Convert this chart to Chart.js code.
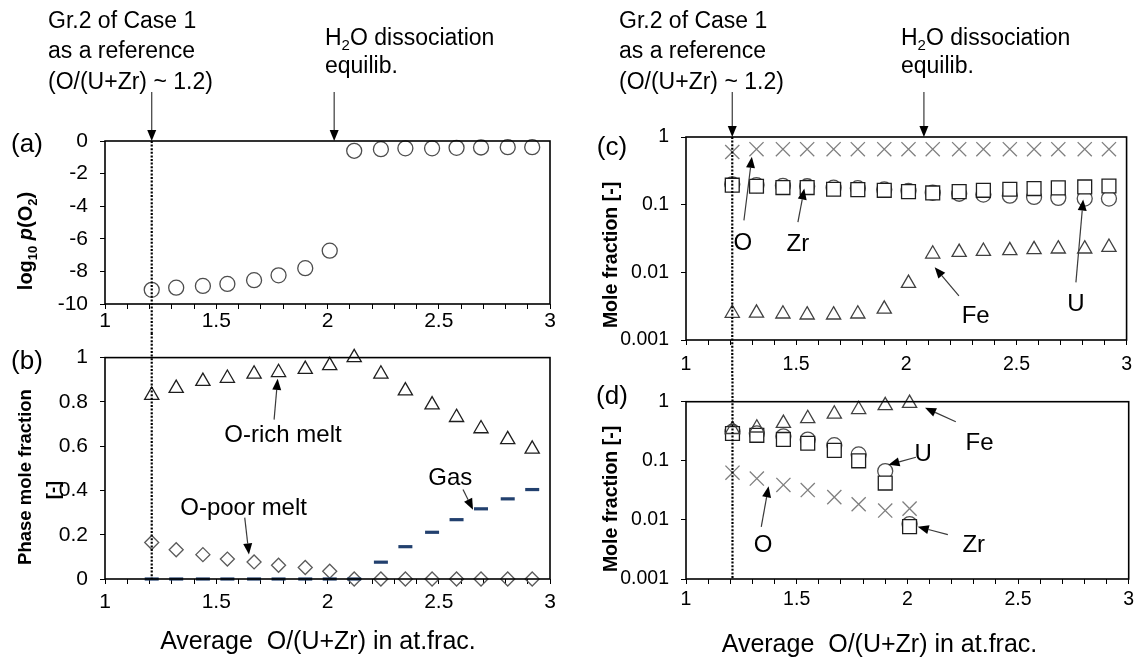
<!DOCTYPE html>
<html lang="en">
<head>
<meta charset="utf-8">
<title>O/(U+Zr) dependence</title>
<script src="https://cdn.jsdelivr.net/npm/chart.js@4.4.1/dist/chart.umd.min.js"></script>
<style>
  body { margin: 0; background: #fff; }
  #figura { position: relative; width: 1140px; height: 657px; overflow: hidden; }
  #figura canvas { position: absolute; }
</style>
</head>
<body>
<div id="figura">
  <canvas id="painelA" width="570" height="333" style="left:0;top:0"></canvas>
  <canvas id="painelB" width="570" height="324" style="left:0;top:333px"></canvas>
  <canvas id="painelC" width="570" height="378" style="left:570px;top:0"></canvas>
  <canvas id="painelD" width="570" height="279" style="left:570px;top:378px"></canvas>
</div>
<script>
var FONTE = "'Liberation Sans', Arial, Helvetica, sans-serif";

// average O/(U+Zr) of each calculation case
var oRatio = [1.21, 1.32, 1.44, 1.55, 1.67, 1.78, 1.90, 2.01, 2.12, 2.24, 2.35, 2.47, 2.58, 2.69, 2.81, 2.92];
var refRatio = 1.21;      // Gr.2 of Case 1
var h2oRatioEsq = 2.03;   // arrow "H2O dissociation equilib."
var h2oRatioDir = 2.08;

// (a) oxygen partial pressure
var logPO2 = [-9.13, -9.00, -8.89, -8.77, -8.54, -8.24, -7.80, -6.73, -0.60, -0.50, -0.45, -0.45, -0.42, -0.40, -0.38, -0.38];

// (b) phase mole fractions
var oRichMelt = [0.830, 0.861, 0.893, 0.907, 0.926, 0.933, 0.947, 0.964, 1.000, 0.926, 0.850, 0.787, 0.730, 0.679, 0.630, 0.587];
var oPoorMelt = [0.165, 0.132, 0.110, 0.090, 0.077, 0.062, 0.052, 0.035, 0, 0, 0, 0, 0, 0, 0, 0];
var gasPhase = [0, 0, 0, 0, 0, 0, 0, 0, 0, 0.076, 0.146, 0.211, 0.268, 0.317, 0.362, 0.404];

// (c) O-rich melt composition
var richO = [0.60, 0.66, 0.66, 0.66, 0.66, 0.66, 0.66, 0.66, 0.66, 0.66, 0.66, 0.66, 0.66, 0.66, 0.66, 0.66];
var richU = [0.200, 0.195, 0.190, 0.187, 0.178, 0.175, 0.168, 0.160, 0.150, 0.145, 0.141, 0.136, 0.130, 0.126, 0.123, 0.123];
var richZr = [0.194, 0.187, 0.179, 0.179, 0.169, 0.167, 0.163, 0.156, 0.149, 0.156, 0.163, 0.169, 0.173, 0.177, 0.183, 0.189];
var richFe = [0.00249, 0.00250, 0.00243, 0.00235, 0.00235, 0.00243, 0.00286, 0.00687, 0.0187, 0.0198, 0.0205, 0.0210, 0.0217, 0.0222, 0.0222, 0.0235];

// (d) O-poor melt composition (only up to O/(U+Zr) = 2)
var poorO = [0.063, 0.050, 0.039, 0.032, 0.0243, 0.0184, 0.0144, 0.0155];
var poorU = [0.31, 0.29, 0.26, 0.229, 0.184, 0.128, 0.067, 0.0085];
var poorZr = [0.29, 0.27, 0.23, 0.198, 0.150, 0.100, 0.042, 0.0077];
var poorFe = [0.34, 0.36, 0.43, 0.52, 0.62, 0.74, 0.86, 0.94];

// ticks
var xTickValues = [1.0, 1.1, 1.2, 1.3, 1.4, 1.5, 1.6, 1.7, 1.8, 1.9, 2.0, 2.1, 2.2, 2.3, 2.4, 2.5, 2.6, 2.7, 2.8, 2.9, 3.0];
var xTickLabels = ['1', '1.5', '2', '2.5', '3'];
var yTicksA = [-10, -8, -6, -4, -2, 0];
var yTicksB = [0, 0.2, 0.4, 0.6, 0.8, 1];
var yTicksLog = [0.001, 0.01, 0.1, 1];

function pontos(xs, ys) {
    return ys.map(function (y, i) { return { x: xs[i], y: y }; });
}

function serie(data, estilo, raio, cor, fundo, largura) {
    return {
        data: data,
        pointStyle: estilo,
        pointRadius: raio,
        pointBorderColor: cor,
        pointBackgroundColor: fundo || 'rgba(0,0,0,0)',
        pointBorderWidth: largura || 1.3,
        showLine: false,
        clip: false
    };
}

function rotuloX(v) {
    var k = Math.round(v * 10);
    if (k % 5 !== 0) return '';
    return xTickLabels[(k - 10) / 5];
}

// --- desenho auxiliar ---
function texto(ctx, s, x, y, tam, alinh, peso) {
    ctx.save();
    ctx.font = (peso || '') + ' ' + tam + 'px ' + FONTE;
    ctx.fillStyle = '#000';
    ctx.textAlign = alinh || 'center';
    ctx.textBaseline = 'middle';
    ctx.fillText(s, x, y);
    ctx.restore();
}

// runs: [{t, tam, dy, estilo}], centred or left aligned, optionally rotated
function textoRico(ctx, runs, x, y, alinh, girar) {
    ctx.save();
    ctx.translate(x, y);
    if (girar) ctx.rotate(-Math.PI / 2);
    ctx.fillStyle = '#000';
    ctx.textAlign = 'left';
    ctx.textBaseline = 'alphabetic';
    var total = 0, base = runs[0].tam;
    runs.forEach(function (r) {
        ctx.font = (r.estilo || '') + ' ' + r.tam + 'px ' + FONTE;
        total += ctx.measureText(r.t).width;
    });
    var cx = alinh === 'left' ? 0 : -total / 2;
    runs.forEach(function (r) {
        ctx.font = (r.estilo || '') + ' ' + r.tam + 'px ' + FONTE;
        ctx.fillText(r.t, cx, base * 0.36 + (r.dy || 0));
        cx += ctx.measureText(r.t).width;
    });
    ctx.restore();
}

function seta(ctx, x1, y1, x2, y2) {
    var ang = Math.atan2(y2 - y1, x2 - x1);
    var cab = 11, meia = 4.5;
    var bx = x2 - cab * Math.cos(ang), by = y2 - cab * Math.sin(ang);
    ctx.save();
    ctx.strokeStyle = '#3a3a3a';
    ctx.fillStyle = '#000';
    ctx.lineWidth = 1.2;
    ctx.beginPath();
    ctx.moveTo(x1, y1);
    ctx.lineTo(bx, by);
    ctx.stroke();
    ctx.beginPath();
    ctx.moveTo(x2, y2);
    ctx.lineTo(bx + meia * Math.sin(ang), by - meia * Math.cos(ang));
    ctx.lineTo(bx - meia * Math.sin(ang), by + meia * Math.cos(ang));
    ctx.closePath();
    ctx.fill();
    ctx.restore();
}

function pontilhado(ctx, x, y1, y2) {
    ctx.save();
    ctx.strokeStyle = '#000';
    ctx.lineWidth = 2.2;
    ctx.setLineDash([2, 1.6]);
    ctx.beginPath();
    ctx.moveTo(x, y1);
    ctx.lineTo(x, y2);
    ctx.stroke();
    ctx.restore();
}

function criarPainel(id, area, escalaY, datasets, tamTick, folgaX, notas) {
    var canvas = document.getElementById(id);
    var W = canvas.width, H = canvas.height;
    var y = Object.assign({
        afterFit: function (s) { s.width = area.left; },
        grid: { drawOnChartArea: false, drawTicks: true, tickLength: 5, color: '#000', tickColor: '#000', lineWidth: 1 },
        border: { display: false }
    }, escalaY);
    y.ticks = Object.assign({ padding: 12, color: '#000', font: { family: FONTE, size: tamTick } }, escalaY.ticks);

    return new Chart(canvas, {
        type: 'scatter',
        data: { datasets: datasets },
        options: {
            responsive: false,
            animation: false,
            events: [],
            layout: { padding: { left: 0, right: W - area.right, top: area.top, bottom: 0 } },
            plugins: { legend: { display: false }, tooltip: { enabled: false } },
            scales: {
                x: {
                    type: 'linear',
                    min: 1,
                    max: 3,
                    afterBuildTicks: function (s) { s.ticks = xTickValues.map(function (v) { return { value: v }; }); },
                    afterFit: function (s) { s.height = H - area.bottom; },
                    ticks: {
                        autoSkip: false, maxRotation: 0, minRotation: 0, padding: folgaX,
                        color: '#000', font: { family: FONTE, size: tamTick },
                        callback: function (v) { return rotuloX(v); }
                    },
                    grid: { drawOnChartArea: false, drawTicks: true, tickLength: 5, color: '#000', tickColor: '#000', lineWidth: 1 },
                    border: { display: false }
                },
                y: y
            }
        },
        plugins: [{
            id: 'molduraENotas',
            afterDraw: function (chart) {
                var ctx = chart.ctx, ca = chart.chartArea;
                var sx = chart.scales.x, sy = chart.scales.y;
                ctx.save();
                ctx.strokeStyle = '#000';
                ctx.lineWidth = 1.6;
                ctx.strokeRect(ca.left, ca.top, ca.right - ca.left, ca.bottom - ca.top);
                ctx.restore();
                notas(ctx, function (v) { return sx.getPixelForValue(v); },
                      function (v) { return sy.getPixelForValue(v); }, ca, H);
            }
        }]
    });
}

function notaSeta(ctx, px, py, s, tx, ty, x1, y1, x2, y2) {
    texto(ctx, s, px(tx), py(ty), 24);
    seta(ctx, px(x1), py(y1), px(x2), py(y2));
}

function sub(t) { return { t: t, tam: 15, dy: 5 }; }

// (a) log10 p(O2)
criarPainel('painelA', { left: 105, right: 550, top: 141, bottom: 304 }, {
    type: 'linear', min: -10, max: 0,
    afterBuildTicks: function (s) { s.ticks = yTicksA.map(function (v) { return { value: v }; }); },
    ticks: { callback: function (v) { return String(v); } }
}, [
    serie(pontos(oRatio, logPO2), 'circle', 7.5, '#4d4d4d')
], 21, 0, function (ctx, px, py, ca, H) {
    pontilhado(ctx, px(refRatio), ca.top, H);
    texto(ctx, 'Gr.2 of Case 1', 48, 22, 23, 'left');
    texto(ctx, 'as a reference', 48, 52, 23, 'left');
    texto(ctx, '(O/(U+Zr) ~ 1.2)', 48, 83, 23, 'left');
    textoRico(ctx, [{ t: 'H', tam: 23 }, sub('2'), { t: 'O dissociation', tam: 23 }], 325, 37, 'left');
    texto(ctx, 'equilib.', 325, 67, 23, 'left');
    seta(ctx, px(refRatio), 92, px(refRatio), ca.top);
    seta(ctx, px(h2oRatioEsq), 92, px(h2oRatioEsq), ca.top);
    texto(ctx, '(a)', 27, 145, 26);
    textoRico(ctx, [
        { t: 'log', tam: 20, estilo: 'bold' }, { t: '10', tam: 13, dy: 5, estilo: 'bold' },
        { t: ' ', tam: 20, estilo: 'bold' }, { t: 'p', tam: 20, estilo: 'italic bold' },
        { t: '(O', tam: 20, estilo: 'bold' }, { t: '2', tam: 13, dy: 5, estilo: 'bold' },
        { t: ')', tam: 20, estilo: 'bold' }
    ], 25, 241, 'center', true);
});

// (b) phase mole fraction
criarPainel('painelB', { left: 105, right: 550, top: 11, bottom: 246 }, {
    type: 'linear', min: 0, max: 1,
    afterBuildTicks: function (s) { s.ticks = yTicksB.map(function (v) { return { value: v }; }); },
    ticks: { callback: function (v) { return String(v); } }
}, [
    serie(pontos(oRatio, gasPhase), 'line', 7, '#22406e', null, 3.2),
    serie(pontos(oRatio, oPoorMelt), 'rectRot', 7, '#5a5a5a'),
    serie(pontos(oRatio, oRichMelt), 'triangle', 8.2, '#1e1e1e')
], 21, 6, function (ctx, px, py, ca, H) {
    pontilhado(ctx, px(refRatio), 0, ca.bottom);
    notaSeta(ctx, px, py, 'O-rich melt', 1.80, 0.647, 1.76, 0.72, 1.776, 0.904);
    notaSeta(ctx, px, py, 'O-poor melt', 1.623, 0.32, 1.628, 0.277, 1.647, 0.111);
    notaSeta(ctx, px, py, 'Gas', 2.552, 0.454, 2.609, 0.404, 2.654, 0.313);
    texto(ctx, '(b)', 27, 29, 26);
    textoRico(ctx, [{ t: 'Phase mole fraction', tam: 18.5, estilo: 'bold' }], 24, 144, 'center', true);
    textoRico(ctx, [{ t: '[-]', tam: 18.5, estilo: 'bold' }], 52, 157, 'center', true);
    texto(ctx, 'Average  O/(U+Zr) in at.frac.', px(1.957), 309, 25);
});

// (c) O-rich melt composition
criarPainel('painelC', { left: 116, right: 563, top: 137, bottom: 340 }, {
    type: 'logarithmic', min: 0.001, max: 1,
    afterBuildTicks: function (s) { s.ticks = yTicksLog.map(function (v) { return { value: v }; }); },
    ticks: { callback: function (v) { return String(v); } }
}, [
    serie(pontos(oRatio, richO), 'crossRot', 10, '#7f7f7f'),
    serie(pontos(oRatio, richZr), 'rect', 9.8, '#1e1e1e', '#fff'),
    serie(pontos(oRatio, richU), 'circle', 7.5, '#4d4d4d'),
    serie(pontos(oRatio, richFe), 'triangle', 8.2, '#404040')
], 19.5, 8, function (ctx, px, py, ca, H) {
    pontilhado(ctx, px(refRatio), ca.top, H);
    texto(ctx, 'Gr.2 of Case 1', 49, 22, 23, 'left');
    texto(ctx, 'as a reference', 49, 52, 23, 'left');
    texto(ctx, '(O/(U+Zr) ~ 1.2)', 49, 83, 23, 'left');
    textoRico(ctx, [{ t: 'H', tam: 23 }, sub('2'), { t: 'O dissociation', tam: 23 }], 331, 37, 'left');
    texto(ctx, 'equilib.', 331, 67, 23, 'left');
    seta(ctx, px(refRatio), 92, px(refRatio), ca.top);
    seta(ctx, px(h2oRatioDir), 92, px(h2oRatioDir), ca.top);
    notaSeta(ctx, px, py, 'O', 1.258, 0.0264, 1.263, 0.0585, 1.299, 0.51);
    notaSeta(ctx, px, py, 'Zr', 1.508, 0.0255, 1.508, 0.055, 1.537, 0.173);
    notaSeta(ctx, px, py, 'Fe', 2.315, 0.00222, 2.239, 0.0045, 2.129, 0.0119);
    notaSeta(ctx, px, py, 'U', 2.77, 0.0034, 2.77, 0.0071, 2.803, 0.119);
    texto(ctx, '(c)', 42, 148, 26);
    textoRico(ctx, [{ t: 'Mole fraction [-]', tam: 19.5, estilo: 'bold' }], 40, 255, 'center', true);
});

// (d) O-poor melt composition
criarPainel('painelD', { left: 116, right: 563, top: 12, bottom: 201 }, {
    type: 'logarithmic', min: 0.001, max: 1,
    afterBuildTicks: function (s) { s.ticks = yTicksLog.map(function (v) { return { value: v }; }); },
    ticks: { callback: function (v) { return String(v); } }
}, [
    serie(pontos(oRatio, poorFe), 'triangle', 8.2, '#404040'),
    serie(pontos(oRatio, poorO), 'crossRot', 10, '#7f7f7f'),
    serie(pontos(oRatio, poorZr), 'rect', 9.8, '#1e1e1e', '#fff'),
    serie(pontos(oRatio, poorU), 'circle', 7.5, '#4d4d4d')
], 19.5, 4, function (ctx, px, py, ca, H) {
    pontilhado(ctx, px(refRatio), 0, ca.bottom);
    notaSeta(ctx, px, py, 'Fe', 2.326, 0.198, 2.219, 0.458, 2.08, 0.787);
    notaSeta(ctx, px, py, 'U', 2.071, 0.13, 2.039, 0.115, 1.915, 0.0855);
    notaSeta(ctx, px, py, 'O', 1.348, 0.00368, 1.34, 0.00765, 1.373, 0.037);
    notaSeta(ctx, px, py, 'Zr', 2.30, 0.0037, 2.183, 0.00564, 2.047, 0.00765);
    texto(ctx, '(d)', 42, 19, 26);
    textoRico(ctx, [{ t: 'Mole fraction [-]', tam: 19.5, estilo: 'bold' }], 40, 121, 'center', true);
    texto(ctx, 'Average  O/(U+Zr) in at.frac.', px(1.874), 267, 25);
});
</script>
</body>
</html>
